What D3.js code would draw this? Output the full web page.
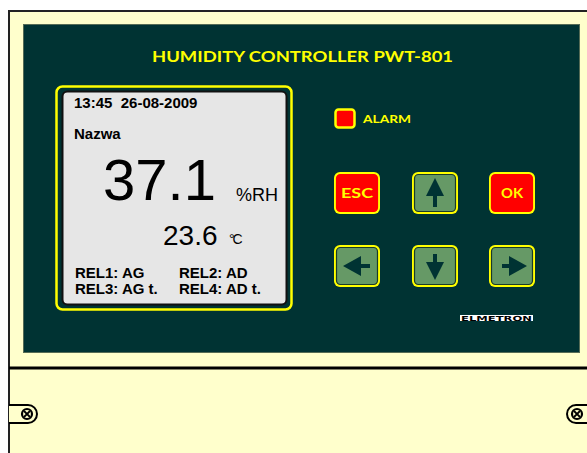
<!DOCTYPE html>
<html>
<head>
<meta charset="utf-8">
<script src="https://cdn.jsdelivr.net/npm/d3@7"></script>
<style>
html,body{margin:0;padding:0;background:#fff;}
svg{display:block;}
</style>
</head>
<body>
<svg id="c" width="587" height="453"></svg>
<script>
// ---- data ----
const title = "HUMIDITY CONTROLLER PWT-801";
const dateTime = "13:45  26-08-2009";
const channelName = "Nazwa";
const humidity = "37.1";
const humidityUnit = "%RH";
const temperature = "23.6";
const temperatureUnit = "°C";
const relayLabels = ["REL1: AG", "REL2: AD", "REL3: AG t.", "REL4: AD t."];
const alarmLabel = "ALARM";
const buttonLabels = ["ESC", "up", "OK", "left", "down", "right"];
const brand = "ELMETRON";

// ---- layout ----
const svg = d3.select("#c");
const cream = "#FFFFCC", dark = "#003333", yellow = "#FFFF00", red = "#FF0000", green = "#669966";

// outer housing
svg.append("rect").attr("x", 9).attr("y", 11).attr("width", 590).attr("height", 460)
  .attr("fill", cream).attr("stroke", "#222").attr("stroke-width", 2);
svg.append("line").attr("x1", 9).attr("x2", 587).attr("y1", 368).attr("y2", 368)
  .attr("stroke", "#000").attr("stroke-width", 3);

// dark front panel
svg.append("rect").attr("x", 23.5).attr("y", 24.5).attr("width", 556).attr("height", 328)
  .attr("fill", dark).attr("stroke", "#556b55").attr("stroke-width", 1);

// title
svg.append("text").attr("x", 152).attr("y", 62).text(title)
  .attr("font-family", "Lato, sans-serif").attr("font-weight", "bold").attr("font-size", 16)
  .attr("fill", yellow).attr("textLength", 301).attr("lengthAdjust", "spacingAndGlyphs");

// screen
svg.append("rect").attr("x", 56.5).attr("y", 86.5).attr("width", 235).attr("height", 223).attr("rx", 6)
  .attr("fill", dark).attr("stroke", yellow).attr("stroke-width", 2.5);
svg.append("rect").attr("x", 62.5).attr("y", 91.5).attr("width", 224).attr("height", 213).attr("rx", 5)
  .attr("fill", "#E6E6E6").attr("stroke", "#111").attr("stroke-width", 2);

const sf = "Liberation Sans, Arial, sans-serif";
function t(x, y, s, size, weight, anchor) {
  return svg.append("text").attr("x", x).attr("y", y).text(s)
    .attr("font-family", sf).attr("font-size", size).attr("font-weight", weight || "normal")
    .attr("fill", "#000").attr("text-anchor", anchor || "start");
}
t(74, 108, dateTime, 15, "bold").style("white-space", "pre");
t(74, 139, channelName, 15, "bold");
t(103, 200, humidity, 58);
t(236, 201, humidityUnit, 18);
t(163, 245, temperature, 28);
t(229, 244, temperatureUnit, 14).attr("letter-spacing", -2);
const relX = d3.scaleOrdinal().domain([0, 1]).range([75, 179]);
const relY = d3.scaleOrdinal().domain([0, 1]).range([278, 294]);
relayLabels.forEach((r, i) => t(relX(i % 2), relY(Math.floor(i / 2)), r, 15, "bold"));

// alarm LED
svg.append("rect").attr("x", 335.5).attr("y", 109.5).attr("width", 19).attr("height", 18).attr("rx", 3)
  .attr("fill", red).attr("stroke", yellow).attr("stroke-width", 2.5);
svg.append("text").attr("x", 363).attr("y", 123).text(alarmLabel)
  .attr("font-family", "Lato, sans-serif").attr("font-weight", "bold").attr("font-size", 12)
  .attr("fill", yellow).attr("textLength", 48).attr("lengthAdjust", "spacingAndGlyphs");

// buttons
const bx = d3.scaleOrdinal().domain([0, 1, 2]).range([333, 411, 488]);
const by = d3.scaleOrdinal().domain([0, 1]).range([171, 244]);
const bw = 48, bh = 44;
const arrows = {
  up:    "M0,-15 L9,3 L2,3 L2,14 L-2,14 L-2,3 L-9,3 Z",
  down:  "M0,14 L9,-4 L2,-4 L2,-12 L-2,-12 L-2,-4 L-9,-4 Z",
  left:  "M-14,0 L4,-10 L4,-2 L13,-2 L13,2 L4,2 L4,10 Z",
  right: "M15,0 L-3,-10 L-3,-2 L-10,-2 L-10,2 L-3,2 L-3,10 Z"
};
buttonLabels.forEach((b, i) => {
  const x = bx(i % 3), y = by(Math.floor(i / 3));
  const g = svg.append("g").attr("transform", `translate(${x},${y})`);
  const isText = (b === "ESC" || b === "OK");
  g.append("rect").attr("x", 1).attr("y", 1).attr("width", bw - 2).attr("height", bh - 2).attr("rx", 6)
    .attr("fill", yellow);
  g.append("rect").attr("x", 3.5).attr("y", 3.5).attr("width", bw - 7).attr("height", bh - 7).attr("rx", 4)
    .attr("fill", isText ? red : green).attr("stroke", isText ? red : "#1a3a2a").attr("stroke-width", 1.2);
  if (isText) {
    g.append("text").attr("x", bw / 2).attr("y", bh / 2 + 5).attr("text-anchor", "middle").text(b)
      .attr("font-family", "Lato, sans-serif").attr("font-weight", "bold").attr("font-size", 14)
      .attr("fill", yellow).attr("textLength", b === "ESC" ? 32 : 22).attr("lengthAdjust", "spacingAndGlyphs");
  } else {
    g.append("path").attr("d", arrows[b]).attr("transform", `translate(${bw / 2},${bh / 2})`)
      .attr("fill", dark);
  }
});

// brand plate
svg.append("rect").attr("x", 460).attr("y", 315).attr("width", 73).attr("height", 6).attr("fill", "#fff");
svg.append("text").attr("x", 461).attr("y", 320.5).text(brand)
  .attr("font-family", "DejaVu Sans, sans-serif").attr("font-weight", "bold").attr("font-size", 7)
  .attr("fill", "#000").attr("textLength", 71).attr("lengthAdjust", "spacingAndGlyphs");

// screw tabs
function screw(cx, cy, tabPath) {
  svg.append("path").attr("d", tabPath).attr("fill", cream).attr("stroke", "#000").attr("stroke-width", 2);
  svg.append("circle").attr("cx", cx).attr("cy", cy).attr("r", 5).attr("fill", "none")
    .attr("stroke", "#000").attr("stroke-width", 2.2);
  const d = 3;
  svg.append("path").attr("d", `M${cx - d},${cy - d}L${cx + d},${cy + d}M${cx + d},${cy - d}L${cx - d},${cy + d}`)
    .attr("stroke", "#000").attr("stroke-width", 1.8);
}
screw(27, 414, "M9,405 L28,405 A9,9 0 0 1 28,423 L9,423");
screw(577, 414, "M590,405 L576,405 A9,9 0 0 0 576,423 L590,423");
</script>
</body>
</html>
